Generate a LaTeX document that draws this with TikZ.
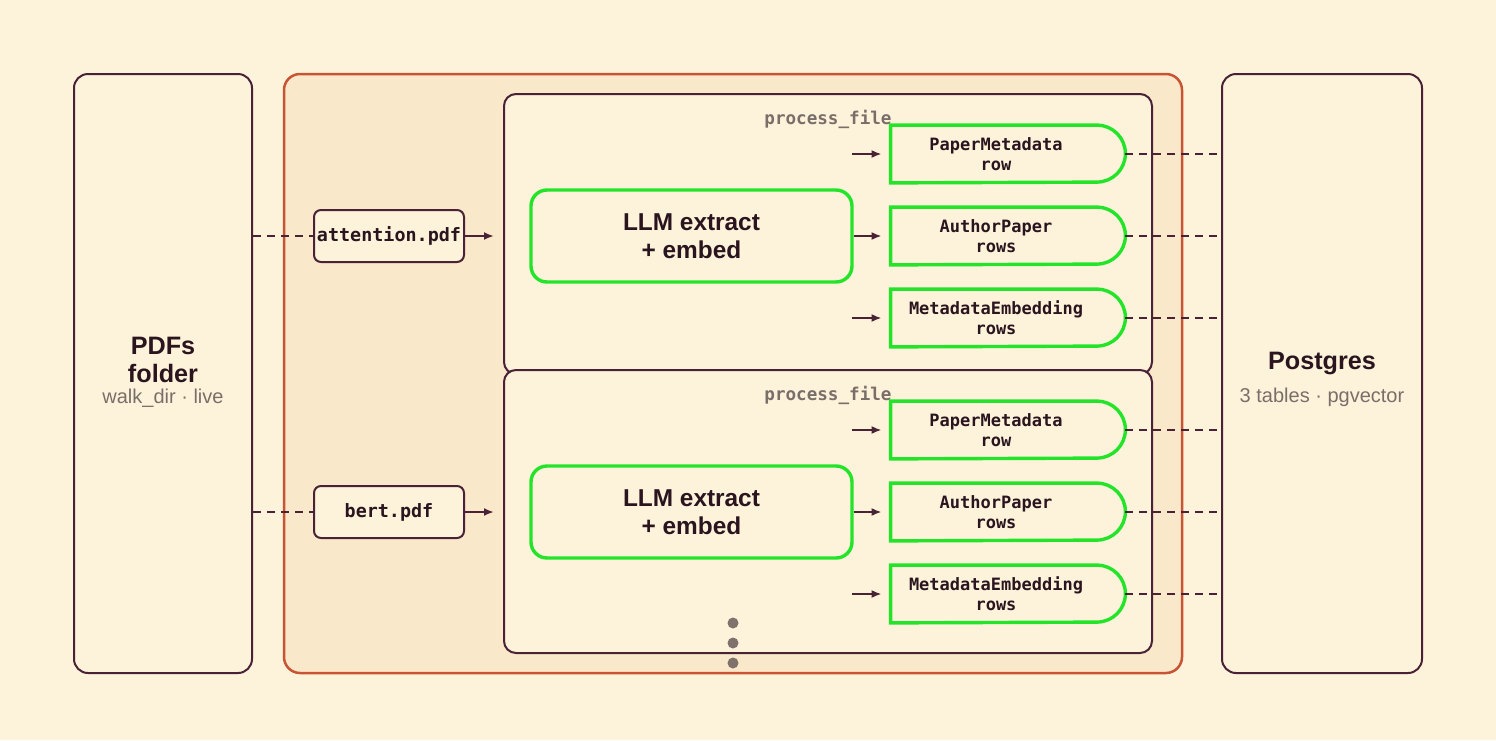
\documentclass[tikz,border=0pt]{standalone}
\usepackage{fontspec}
\setmainfont{Liberation Sans}
\newfontfamily\monof{DejaVu Sans Mono}
\usetikzlibrary{arrows.meta,calc}
\definecolor{bg}{RGB}{253,243,219}
\definecolor{outerfill}{RGB}{250,232,203}
\definecolor{orangeb}{RGB}{200,84,52}
\definecolor{maroon}{RGB}{74,34,54}
\definecolor{greenb}{RGB}{36,228,42}
\definecolor{graytext}{RGB}{122,110,105}
\definecolor{darktext}{RGB}{42,20,30}
\definecolor{dotc}{RGB}{127,113,107}
\begin{document}
\begin{tikzpicture}[x=0.5pt,y=-0.5pt,
  rbox/.style={draw=maroon,line width=1pt,fill=bg,inner sep=0pt,rounded corners=7pt},
  outerbox/.style={draw=orangeb,line width=1.25pt,fill=outerfill,inner sep=0pt,rounded corners=8pt},
  procbox/.style={draw=maroon,line width=1pt,fill=bg,inner sep=0pt,rounded corners=6pt,minimum width=324pt},
  filebox/.style={draw=maroon,line width=1pt,fill=bg,inner sep=0pt,rounded corners=3.5pt,minimum width=75pt,minimum height=26pt,font=\monof\bfseries\fontsize{9.2}{11}\selectfont,text=darktext},
  llmbox/.style={draw=greenb,line width=1.7pt,fill=bg,inner sep=0pt,rounded corners=8pt,minimum width=160.5pt,minimum height=46pt,align=center,font=\bfseries\fontsize{12.2}{14}\selectfont,text=darktext},
  outanchor/.style={inner sep=0pt,minimum width=117pt,minimum height=28.5pt},
  outtext/.style={align=center,inner sep=0pt,font=\monof\bfseries\fontsize{8.5}{10}\selectfont,text=darktext},
  title/.style={align=center,inner sep=0pt,font=\bfseries\fontsize{12.6}{14}\selectfont,text=darktext},
  subtitle/.style={inner sep=0pt,font=\fontsize{10}{12}\selectfont,text=graytext},
  proclabel/.style={inner sep=0pt,font=\monof\bfseries\fontsize{8.8}{10}\selectfont,text=graytext},
  arr/.style={draw=maroon,line width=1pt,-{Latex[length=5pt,width=4pt]}},
  dashln/.style={draw=maroon,line width=1pt,dash pattern=on 4pt off 3pt},
  dot/.style={circle,fill=dotc,inner sep=0pt,minimum size=5.5pt}
]
\fill[bg] (0,0) rectangle (1496,740);
\useasboundingbox (0,0) rectangle (1496,740);

% main columns
\node[rbox,minimum width=89pt,minimum height=299.5pt] (pdfs) at (163,373.5) {};
\node[title] (pdfst) at (163,360) {PDFs\\folder};
\node[subtitle] (pdfss) at (163,398) {walk\_dir · live};

\node[outerbox,minimum width=449pt,minimum height=299.5pt] (outer) at (733,373.5) {};

\node[rbox,minimum width=100pt,minimum height=299.5pt] (pg) at (1322,373.5) {};
\node[title] (pgt) at (1322,363) {Postgres};
\node[subtitle] (pgs) at (1322,397) {3 tables · pgvector};

% process boxes
\node[procbox,minimum height=140pt] (p1) at (828,234) {};
\node[procbox,minimum height=141.5pt] (p2) at (828,511.5) {};
\node[proclabel] (pl1) at (828,119) {process\_file};
\node[proclabel] (pl2) at (828,395) {process\_file};

% file boxes
\node[filebox] (f1) at (389,236) {attention.pdf};
\node[filebox] (f2) at (389,512) {bert.pdf};

% LLM boxes
\node[llmbox] (l1) at (691.5,236) {LLM extract\\+ embed};
\node[llmbox] (l2) at (691.5,512) {LLM extract\\+ embed};

% output shapes
\foreach \n/\y/\a/\b in {o11/154/PaperMetadata/row,o12/236/AuthorPaper/rows,o13/318/MetadataEmbedding/rows,o21/430/PaperMetadata/row,o22/512/AuthorPaper/rows,o23/594/MetadataEmbedding/rows}{
  \node[outanchor] (\n) at (1008,\y) {};
  \draw[draw=greenb,line width=1.7pt,fill=bg] (\n.north west) -- ([xshift=-14.25pt]\n.north east) arc[start angle=90,end angle=-90,radius=14.25pt] -- (\n.south west) -- cycle;
  \node[outtext] (\n t) at (996,\y) {\a\\\b};
}

% connectors: folder -> files
\draw[dashln] (pdfs.east |- f1.west) -- (f1.west);
\draw[dashln] (pdfs.east |- f2.west) -- (f2.west);
\coordinate (a1) at (494,236);
\coordinate (a2) at (494,512);
\draw[arr] (f1.east) -- (a1);
\draw[arr] (f2.east) -- (a2);

% arrows into outputs
\coordinate (s11) at (852,154);
\coordinate (s13) at (852,318);
\coordinate (s21) at (852,430);
\coordinate (s23) at (852,594);
\draw[arr,shorten >=4.5pt] (s11) -- (o11.west);
\draw[arr,shorten >=4.5pt] (l1.east) -- (o12.west);
\draw[arr,shorten >=4.5pt] (s13) -- (o13.west);
\draw[arr,shorten >=4.5pt] (s21) -- (o21.west);
\draw[arr,shorten >=4.5pt] (l2.east) -- (o22.west);
\draw[arr,shorten >=4.5pt] (s23) -- (o23.west);

% outputs -> postgres
\foreach \n in {o11,o12,o13,o21,o22,o23}{
  \draw[dashln] (\n.east) -- (\n.east -| pg.west);
}

% continuation dots
\node[dot] (d1) at (733,623) {};
\node[dot] (d2) at (733,643) {};
\node[dot] (d3) at (733,663) {};
\end{tikzpicture}
\end{document}
